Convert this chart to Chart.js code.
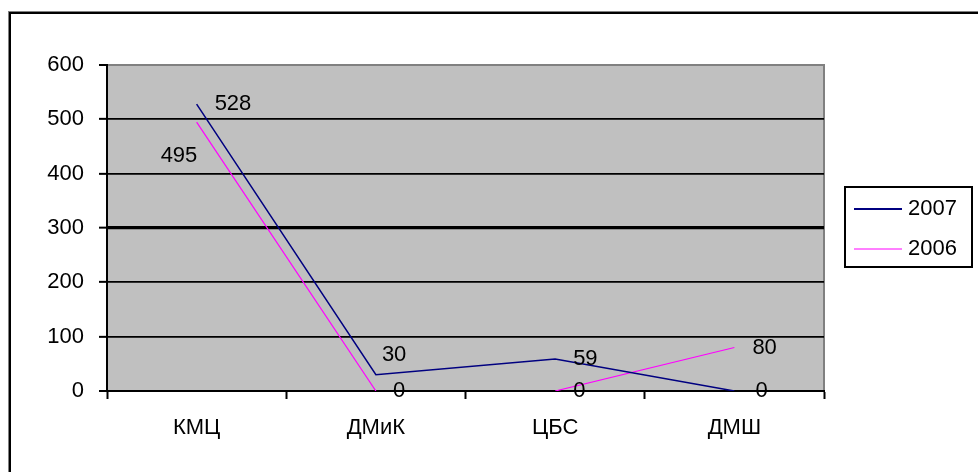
<!DOCTYPE html>
<html>
<head>
<meta charset="utf-8">
<script src="https://cdn.jsdelivr.net/npm/chart.js@4/dist/chart.umd.min.js"></script>
<style>
  html, body { margin: 0; padding: 0; background: #fff; }
  #wrap { width: 978px; height: 472px; }
</style>
</head>
<body>
<div id="wrap"><canvas id="myChart"></canvas></div>
<script>
// ==== data ====
let categories = ['КМЦ', 'ДМиК', 'ЦБС', 'ДМШ'];
let values2007 = [528, 30, 59, 0];
let values2006 = [495, 0, 0, 80];
let yTicks = [0, 100, 200, 300, 400, 500, 600];

const FONT = "'Liberation Sans', Arial, sans-serif";

// ==== fon, ramka va legenda ====
const decorPlugin = {
    id: 'decor',
    beforeDraw(chart) {
        const c = chart.ctx;
        const a = chart.chartArea;
        c.save();
        c.fillStyle = '#fff';
        c.fillRect(0, 0, chart.width, chart.height);
        // tashqi ramka
        c.fillStyle = '#808080';
        c.fillRect(8, 11, chart.width, 1);
        c.fillRect(8, 11, 1, chart.height);
        c.fillStyle = '#000';
        c.fillRect(9, 12, chart.width, 2);
        c.fillRect(9, 12, 2, chart.height);
        // chizma maydoni
        c.fillStyle = '#c0c0c0';
        c.fillRect(a.left, a.top, a.right - a.left, a.bottom - a.top);
        c.strokeStyle = '#808080';
        c.lineWidth = 2;
        c.beginPath();
        c.moveTo(a.left, a.top);
        c.lineTo(a.right, a.top);
        c.lineTo(a.right, a.bottom);
        c.stroke();
        c.restore();
    },
    afterDraw(chart) {
        const c = chart.ctx;
        const a = chart.chartArea;
        const x0 = a.right + 21, y0 = a.top + 122;
        c.save();
        c.fillStyle = '#fff';
        c.fillRect(x0, y0, 127, 80);
        c.strokeStyle = '#000';
        c.lineWidth = 2;
        c.strokeRect(x0, y0, 127, 80);
        c.font = '22px ' + FONT;
        c.textBaseline = 'middle';
        c.fillStyle = '#000';
        chart.data.datasets.forEach((ds, i) => {
            const y = y0 + 22 + i * 40;
            c.strokeStyle = ds.borderColor;
            c.lineWidth = ds.legendWidth;
            c.beginPath();
            c.moveTo(x0 + 9, y);
            c.lineTo(x0 + 57, y);
            c.stroke();
            c.fillText(ds.label, x0 + 63, y);
        });
        c.restore();
    }
};

// ==== qiymat yorliqlari ====
const labelPlugin = {
    id: 'valueLabels',
    afterDatasetsDraw(chart) {
        const c = chart.ctx;
        c.save();
        c.font = '22px ' + FONT;
        c.fillStyle = '#000';
        c.textBaseline = 'middle';
        c.textAlign = 'left';
        chart.data.datasets.forEach((ds, i) => {
            chart.getDatasetMeta(i).data.forEach((pt, j) => {
                const off = ds.labelOffsets[j] || [18, 0];
                c.fillText(String(ds.data[j]), pt.x + off[0], pt.y + off[1]);
            });
        });
        c.restore();
    }
};

const hideZeroSegment = ctx =>
    (ctx.p0.parsed.y === 0 && ctx.p1.parsed.y === 0) ? 'rgba(0,0,0,0)' : undefined;

const data = {
    labels: categories,
    datasets: [
        {
            label: '2007',
            data: values2007,
            borderColor: '#000080',
            borderWidth: 1.5,
            legendWidth: 2,
            pointRadius: 0,
            tension: 0,
            labelOffsets: [null, [6, -20], null, [21, 0]],
            segment: { borderColor: hideZeroSegment }
        },
        {
            label: '2006',
            data: values2006,
            borderColor: '#ff00ff',
            borderWidth: 1.2,
            legendWidth: 1,
            pointRadius: 0,
            tension: 0,
            labelOffsets: [[-36, 34], [17, 0], [18, 0], [18, 0]],
            segment: { borderColor: hideZeroSegment }
        }
    ]
};

const config = {
    type: 'line',
    data: data,
    options: {
        responsive: false,
        animation: false,
        layout: { padding: { left: 0, top: 65, right: 154, bottom: 0 } },
        plugins: { legend: { display: false }, tooltip: { enabled: false } },
        scales: {
            x: {
                offset: true,
                afterFit: s => { s.height = 81; },
                grid: {
                    offset: true,
                    drawOnChartArea: false,
                    tickLength: 8,
                    tickColor: '#000',
                    tickWidth: 2
                },
                border: { color: '#000', width: 2 },
                ticks: { color: '#000', font: { family: FONT, size: 22 }, padding: 16 }
            },
            y: {
                min: 0,
                max: 600,
                afterFit: s => { s.width = 107; },
                afterBuildTicks: s => { s.ticks = yTicks.map(v => ({ value: v })); },
                grid: {
                    color: ctx => ctx.tick && ctx.tick.value === 600 ? '#808080' : '#000',
                    lineWidth: ctx => {
                        if (!ctx.tick) return 1.7;
                        if (ctx.tick.value === 300) return 3.3;
                        if (ctx.tick.value === 0) return 0;
                        return ctx.tick.value === 600 ? 2 : 1.7;
                    },
                    tickLength: 8,
                    tickColor: '#000',
                    tickWidth: 2
                },
                border: { color: '#000', width: 2 },
                ticks: { color: '#000', font: { family: FONT, size: 22 }, padding: 15 }
            }
        }
    },
    plugins: [decorPlugin, labelPlugin]
};

const canvas = document.getElementById('myChart');
canvas.width = 978;
canvas.height = 472;
let myChart = new Chart(canvas, config);
</script>
</body>
</html>
